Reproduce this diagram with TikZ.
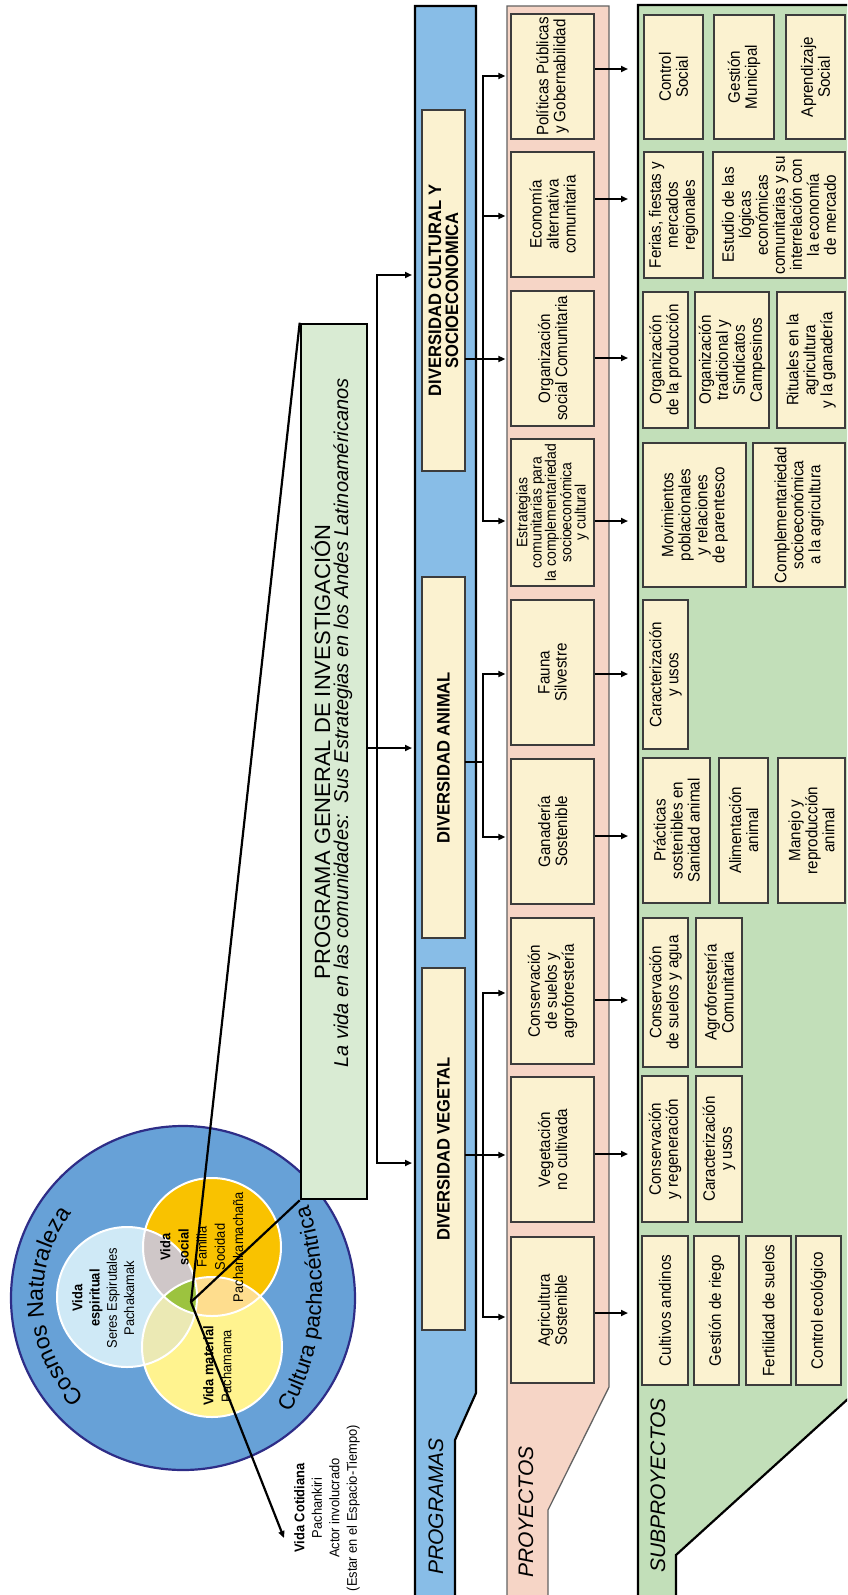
\documentclass[tikz,border=0pt]{standalone}
\usepackage{fontspec}
\setmainfont{Liberation Sans}
\newfontfamily\nar[FakeStretch=0.92]{Liberation Sans}
\usetikzlibrary{arrows.meta,decorations.text}
\definecolor{outerblue}{HTML}{67A1D7}
\definecolor{navy}{HTML}{2E2D87}
\definecolor{spir}{HTML}{CFE9F6}
\definecolor{soc}{HTML}{F9C200}
\definecolor{mat}{HTML}{FFF38F}
\definecolor{spsoc}{HTML}{CFC7C8}
\definecolor{spmat}{HTML}{EBE9B4}
\definecolor{socmat}{HTML}{FEDD8E}
\definecolor{triple}{HTML}{9CC33F}
\definecolor{progblue}{HTML}{88BDE7}
\definecolor{projpink}{HTML}{F6D5C6}
\definecolor{subgreen}{HTML}{C2DFB9}
\definecolor{cream}{HTML}{FBF2D0}
\definecolor{titlegreen}{HTML}{D9EBD3}
\definecolor{boxline}{HTML}{3C3C3C}
\tikzset{
  box/.style={draw=boxline, line width=1.3pt, fill=cream, rotate=90, inner sep=1pt, align=center, text=black, font=\nar\fontsize{16.5}{17}\selectfont},
  progbox/.style={font=\nar\bfseries\fontsize{18}{17}\selectfont},
  conn/.style={line width=2pt, draw=black, line cap=rect},
  arr/.style={line width=2pt, draw=black, -{Triangle[length=7pt,width=6pt]}},
  collabel/.style={rotate=90, anchor=base west, inner sep=0pt, font=\itshape\fontsize{21}{21}\selectfont},
  vtext/.style={rotate=90, inner sep=0pt, align=center, font=\nar\fontsize{14}{17.3}\selectfont},
}
\newcommand\bx[7][]{\node[box,#1,minimum width={(#6-#5)*1pt},minimum height={(#4-#3)*1pt}] (#2) at ({(#3+#4)/2},{-(#5+#6)/2}) {#7};}
\begin{document}
\begin{tikzpicture}[x=1pt,y=1pt]
\path[use as bounding box] (0,0) rectangle (847,-1595);
\clip (0,0) rectangle (847,-1595);
% ---------- cosmos circle ----------
\node[circle, draw=navy, line width=2.2pt, fill=outerblue, minimum size=344pt, inner sep=0pt] (cosmos) at (183,-1298) {};
\coordinate (cs) at (127,-1297);
\coordinate (cso) at (212,-1247);
\coordinate (cm) at (212,-1347);
\coordinate (cultc) at (60,-1288);
\fill[spir] (cs) circle (70pt);
\fill[soc] (cso) circle (69pt);
\fill[mat] (cm) circle (70pt);
\begin{scope}\clip (cs) circle (70pt); \fill[spsoc] (cso) circle (69pt);\end{scope}
\begin{scope}\clip (cs) circle (70pt); \fill[spmat] (cm) circle (70pt);\end{scope}
\begin{scope}\clip (cso) circle (69pt); \fill[socmat] (cm) circle (70pt);\end{scope}
\begin{scope}\clip (cs) circle (70pt); \clip (cso) circle (69pt); \fill[triple] (cm) circle (70pt);\end{scope}
\draw[white, line width=2pt] (cs) circle (70pt) (cso) circle (69pt) (cm) circle (70pt);
{\fontsize{23}{23}\selectfont
\path[decorate, decoration={text along path, text align=center, text={Cosmos Naturaleza}}] ([shift={(234:140pt)}]cosmos.center) arc[start angle=234, end angle=134, radius=140pt];}
{\fontsize{22}{22}\selectfont
\path[decorate, decoration={text along path, text align=center, text={Cultura pachacéntrica}}] ([shift={(-30:262pt)}]cultc) arc[start angle=-30, end angle=20, radius=262pt];}
\node[vtext, anchor=north] (tspir) at (72,-1298) {{\bfseries Vida}\\{\bfseries espiritual}\\Seres Espirutales\\Pachakamak};
\node[vtext, anchor=north, font=\nar\fontsize{14}{18.2}\selectfont] (tsoc) at (160,-1247) {{\bfseries Vida}\\{\bfseries social}\\Familia\\Socidad\\Pachankamachaña};
\node[vtext, anchor=north, font=\nar\fontsize{14}{18}\selectfont] (tmat) at (203,-1366) {{\bfseries Vida material}\\Pachamama};
\node[vtext, anchor=north, font=\nar\fontsize{14}{17.5}\selectfont] (tcot) at (294,-1508) {{\bfseries Vida Cotidiana}\\Pachankiri\\Actor involucrado\\(Estar en el Espacio-Tiempo)};
% ---------- title ----------
\node[draw=black, line width=2.6pt, fill=titlegreen, minimum width=66pt, minimum height=875pt, inner sep=0pt] (title) at (334,-761.5) {};
\node[rotate=90, anchor=base, inner sep=0pt, font=\fontsize{22}{22}\selectfont] (t1) at (330,-752) {PROGRAMA GENERAL DE INVESTIGACIÓN};
\node[rotate=90, anchor=base, inner sep=0pt, font=\itshape\fontsize{20}{20}\selectfont] (t2) at (348,-723) {La vida en las comunidades:\ \ Sus Estrategias en los Andes Latinoaméricanos};
\coordinate (P) at (191,-1302);
\coordinate (vc) at (284,-1538);
\draw[line width=2.2pt] (P) -- (title.north west);
\draw[line width=2.2pt] (P) -- (title.south west);
\draw[arr, line width=2.2pt] (P) -- (vc);
% ---------- columns ----------
\draw[line width=2.2pt, fill=progblue] (415,-6) -- (476,-6) -- (476,-1393) -- (455,-1440) -- (455,-1610) -- (415,-1610) -- cycle;
\draw[line width=1.3pt, draw=boxline!80, fill=projpink] (507,-6) -- (609,-6) -- (609,-1387) -- (548,-1510) -- (548,-1610) -- (507,-1610) -- cycle;
\draw[line width=2.2pt, fill=subgreen] (638,-5) -- (860,-5) -- (860,-1388) -- (676,-1555) -- (676,-1610) -- (638,-1610) -- cycle;
\node[collabel] (lprog) at (443,-1575) {PROGRAMAS};
\node[collabel] (lproj) at (533,-1578) {PROYECTOS};
\node[collabel] (lsub) at (665,-1573) {SUBPROYECTOS};
% ---------- programs ----------
\bx[progbox]{prog1}{422}{465}{110}{471}{DIVERSIDAD CULTURAL Y\\SOCIOECONOMICA}
\bx[progbox]{prog2}{422}{465}{577}{938}{DIVERSIDAD ANIMAL}
\bx[progbox]{prog3}{422}{465}{968}{1330}{DIVERSIDAD VEGETAL}
% ---------- projects ----------
\bx{pr1}{511}{594}{14}{139}{Políticas Públicas\\y Gobernabilidad}
\bx{pr2}{511}{594}{152}{277}{Economía\\alternativa\\comunitaria}
\bx{pr3}{511}{594}{291}{426}{Organización\\social Comunitaria}
\bx[font=\nar\fontsize{15.2}{14.3}\selectfont]{pr4}{511}{594}{439}{586}{Estrategias\\comunitarias para\\la complementariedad\\socioeconómica\\y cultural}
\bx{pr5}{511}{594}{600}{745}{Fauna\\Silvestre}
\bx{pr6}{511}{594}{759}{904}{Ganadería\\Sostenible}
\bx{pr7}{511}{594}{918}{1064}{Conservación\\de suelos y\\agroforestería}
\bx{pr8}{511}{594}{1077}{1222}{Vegetación\\no cultivada}
\bx{pr9}{511}{594}{1237}{1383}{Agricultura\\Sostenible}
% ---------- subprojects ----------
\bx{s11}{644}{703}{15}{139}{Control\\Social}
\bx{s12}{714}{774}{15}{139}{Gestión\\Municipal}
\bx{s13}{786}{845}{15}{139}{Aprendizaje\\Social}
\bx{s21}{644}{703}{152}{278}{Ferias, fiestas y\\mercados\\regionales}
\bx{s22}{713}{845}{152}{278}{Estudio de las\\lógicas\\económicas\\comunitarias y su\\interrelación con\\la economía\\de mercado}
\bx{s31}{643}{688}{292}{428}{Organización\\de la producción}
\bx{s32}{695}{769}{292}{428}{Organización\\tradicional y\\Sindicatos\\Campesinos}
\bx{s33}{777}{845}{292}{428}{Rituales en la\\agricultura\\y la ganadería}
\bx{s41}{643}{746}{443}{587}{Movimientos\\poblacionales\\y relaciones\\de parentesco}
\bx{s42}{753}{845}{443}{587}{Complementariedad\\socioeconómica\\a la agricultura}
\bx{s51}{643}{688}{600}{749}{Caracterización\\y usos}
\bx{s61}{643}{710}{758}{903}{Prácticas\\sostenibles en\\Sanidad animal}
\bx{s62}{719}{768}{758}{903}{Alimentación\\animal}
\bx{s63}{778}{845}{758}{903}{Manejo y\\reproducción\\animal}
\bx{s71}{643}{688}{918}{1067}{Conservación\\de suelos y agua}
\bx{s72}{696}{742}{918}{1067}{Agroforestería\\Comunitaria}
\bx{s81}{642}{688}{1076}{1222}{Conservación\\y regeneración}
\bx{s82}{696}{742}{1076}{1222}{Caracterización\\y usos}
\bx{s91}{642}{688}{1236}{1385}{Cultivos andinos}
\bx{s92}{694}{739}{1236}{1385}{Gestión de riego}
\bx{s93}{746}{791}{1236}{1385}{Fertilidad de suelos}
\bx{s94}{796}{841}{1236}{1385}{Control ecológico}
% ---------- connectors: title -> programs ----------
\coordinate (busTop) at (377,-275);
\coordinate (busBot) at (377,-1163);
\coordinate (pin) at (412,0);
\draw[conn] (busTop) -- (busBot);
\draw[arr] (busTop) -- (pin |- busTop);
\draw[arr] (busBot) -- (pin |- busBot);
\draw[arr] (title.east |- 0,-748) -- (pin |- 0,-748);
% ---------- programs -> projects ----------
\coordinate (vb) at (483,0);
\draw[conn] (prog1.south |- 0,-359) -- (vb |- 0,-359);
\draw[conn] (vb |- 0,-76) -- (vb |- 0,-521);
\draw[conn] (prog2.south |- 0,-762) -- (vb |- 0,-762);
\draw[conn] (vb |- 0,-674) -- (vb |- 0,-837);
\draw[conn] (prog3.south |- 0,-1155) -- (vb |- 0,-1155);
\draw[conn] (vb |- 0,-993) -- (vb |- 0,-1317);
\foreach \n/\y in {pr1/76,pr2/216,pr3/359,pr4/521,pr5/674,pr6/837,pr7/993,pr8/1155,pr9/1317}
  \draw[arr, shorten >=5pt] (vb |- 0,-\y) -- (\n.north |- 0,-\y);
% ---------- projects -> subprojects ----------
\coordinate (gl) at (628,0);
\foreach \n/\y in {pr1/69,pr2/199,pr3/358,pr4/521,pr5/674,pr6/836,pr7/1000,pr8/1154,pr9/1313}
  \draw[arr] (\n.south |- 0,-\y) -- (gl |- 0,-\y);
\end{tikzpicture}
\end{document}
